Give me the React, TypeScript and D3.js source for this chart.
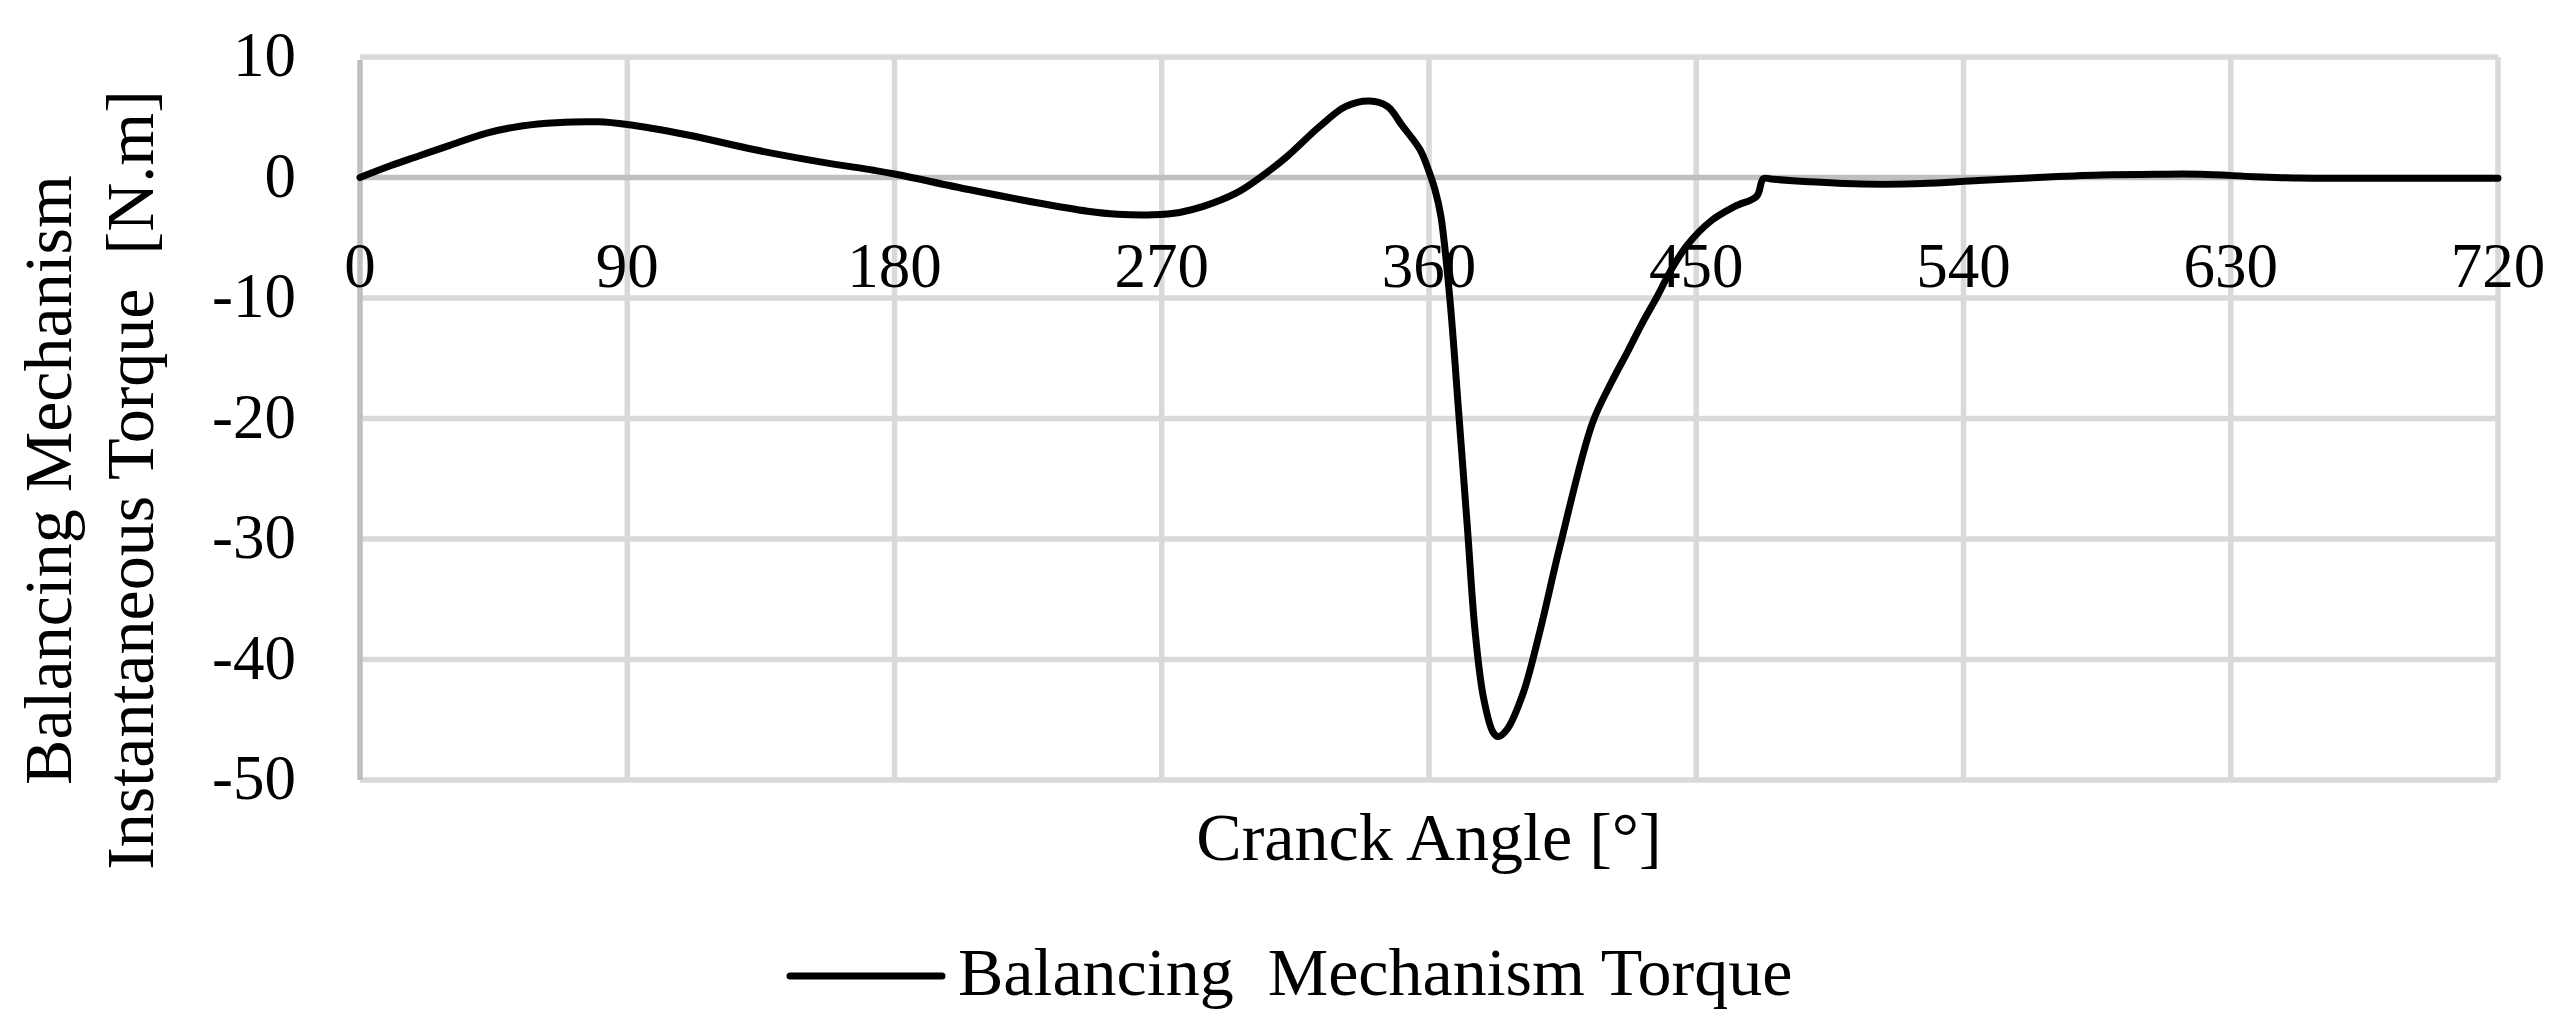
import * as d3 from "d3";
import {useEffect, useRef} from "react";

// crank angle [deg] and balancing mechanism torque [N.m]
const angles = [0, 10, 20, 30, 43, 55, 66, 80, 90, 110, 133, 155, 173, 180, 205, 228, 245, 255, 267, 276, 284, 295, 302, 312, 323, 332, 340, 346, 351, 357, 360, 362, 364, 367, 370, 373, 375.5, 378.3, 381.5, 383.3, 386.3, 391.7, 397.4, 404, 415, 421, 427, 432, 437, 441, 447, 455, 463, 470.4, 472.6, 476, 488, 500, 513, 526, 545, 565, 586, 605, 620, 638, 653, 680, 720];
const torque = [0, 0.95, 1.8, 2.65, 3.7, 4.3, 4.55, 4.62, 4.4, 3.55, 2.3, 1.3, 0.6, 0.29, -1.0, -2.1, -2.8, -3.05, -3.1, -2.9, -2.4, -1.3, -0.2, 1.7, 4.2, 5.9, 6.35, 5.9, 4.3, 2.3, 0.5, -1.0, -3.2, -10, -19.5, -29.3, -37.6, -43.1, -46.0, -46.4, -45.8, -42.8, -37.6, -30.7, -20.4, -17.2, -14.4, -12.0, -9.8, -7.9, -5.6, -3.6, -2.4, -1.54, -0.1, -0.15, -0.35, -0.5, -0.55, -0.5, -0.25, 0.0, 0.2, 0.27, 0.27, 0.07, -0.05, -0.07, -0.07];

const xTicks = [0, 90, 180, 270, 360, 450, 540, 630, 720];
const yTicks = [10, 0, -10, -20, -30, -40, -50];

const seriesName = "Balancing  Mechanism Torque";
const xTitle = "Cranck Angle [°]";
const yTitle = ["Balancing Mechanism", "Instantaneous Torque  [N.m]"];

export default function App() {
    const ref = useRef(null);

    useEffect(() => {
        const svg = d3.select(ref.current);
        svg.selectAll("*").remove();

        const font = "'Liberation Serif', 'Times New Roman', serif";
        const x = d3.scaleLinear().domain([0, 720]).range([360, 2498]);
        const y = d3.scaleLinear().domain([-50, 10]).range([780, 57]);

        svg.append("rect").attr("width", 2571).attr("height", 1033).attr("fill", "#fff");

        // grid
        const grid = svg.append("g").attr("stroke", "#d9d9d9").attr("stroke-width", 5.5);
        grid.selectAll(".h").data(yTicks.filter(d => d !== 0)).join("line")
            .attr("x1", x(0)).attr("x2", x(720))
            .attr("y1", d => y(d)).attr("y2", d => y(d));
        grid.selectAll(".v").data(xTicks.filter(d => d !== 0)).join("line")
            .attr("x1", d => x(d)).attr("x2", d => x(d))
            .attr("y1", y(10)).attr("y2", y(-50));

        // axis lines
        svg.append("line").attr("x1", x(0)).attr("x2", x(0)).attr("y1", y(10) + 3).attr("y2", y(-50))
            .attr("stroke", "#bfbfbf").attr("stroke-width", 5.5);
        svg.append("line").attr("x1", x(0)).attr("x2", x(720)).attr("y1", y(0)).attr("y2", y(0))
            .attr("stroke", "#bfbfbf").attr("stroke-width", 5.5);

        // tick labels
        svg.append("g").selectAll("text").data(xTicks).join("text")
            .attr("x", d => x(d)).attr("y", y(0) + 109)
            .attr("text-anchor", "middle").attr("font-family", font).attr("font-size", 63)
            .text(d => d);
        svg.append("g").selectAll("text").data(yTicks).join("text")
            .attr("x", 296).attr("y", d => y(d) + 19)
            .attr("text-anchor", "end").attr("font-family", font).attr("font-size", 63)
            .text(d => d);

        // axis titles
        svg.append("text").attr("x", (x(0) + x(720)) / 2).attr("y", 860)
            .attr("text-anchor", "middle").attr("font-family", font).attr("font-size", 68)
            .text(xTitle);
        svg.append("g").selectAll("text").data(yTitle).join("text")
            .attr("transform", (d, i) => `translate(${i === 0 ? 71 : 153},480) rotate(-90)`)
            .attr("text-anchor", "middle").attr("font-family", font).attr("font-size", 68)
            .attr("xml:space", "preserve").style("white-space", "pre")
            .text(d => d);

        // the curve
        const line = d3.line().x((d, i) => x(angles[i])).y(d => y(d)).curve(d3.curveCatmullRom.alpha(0.5));
        svg.append("path").datum(torque).attr("d", line)
            .attr("fill", "none").attr("stroke", "#000").attr("stroke-width", 7)
            .attr("stroke-linejoin", "round").attr("stroke-linecap", "round");

        // legend
        svg.append("line").attr("x1", 790).attr("x2", 942).attr("y1", 976).attr("y2", 976)
            .attr("stroke", "#000").attr("stroke-width", 7).attr("stroke-linecap", "round");
        svg.append("text").attr("x", 958).attr("y", 995)
            .attr("font-family", font).attr("font-size", 68)
            .attr("xml:space", "preserve").style("white-space", "pre")
            .text(seriesName);
    }, []);

    return <svg ref={ref} width={2571} height={1033} style={{position: "absolute", left: 0, top: 0}}></svg>;
}
